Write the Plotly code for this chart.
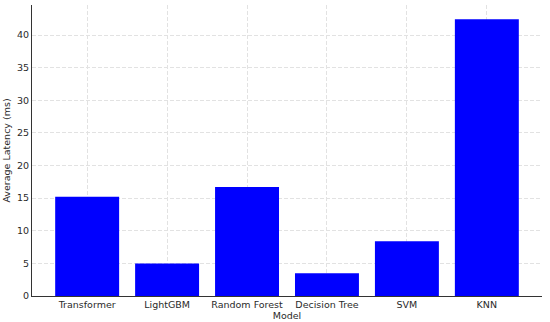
import plotly.graph_objects as go

models = ["Transformer", "LightGBM", "Random Forest", "Decision Tree", "SVM", "KNN"]
latency = [15.2, 5.0, 16.7, 3.5, 8.4, 42.4]
y_ticks = [0, 5, 10, 15, 20, 25, 30, 35, 40]

fig = go.Figure()
fig.add_trace(go.Bar(
    x=list(range(len(models))), y=latency,
    marker=dict(color="#0000ff", line=dict(width=0)),
    width=0.8,
))

font = dict(family="DejaVu Sans", size=9.5, color="#2a2a2a")
grid = dict(showgrid=True, gridcolor="#e2e2e2", griddash="4px,2px", gridwidth=0.7)
fig.update_layout(
    width=550, height=322, autosize=False,
    margin=dict(l=32, r=8, t=5, b=26, pad=0, autoexpand=False),
    paper_bgcolor="white", plot_bgcolor="white",
    showlegend=False,
    font=font,
    xaxis=dict(
        range=[-0.69, 5.69],
        tickmode="array", tickvals=list(range(len(models))), ticktext=models,
        showline=True, linecolor="#333333", linewidth=1,
        ticks="", **grid,
        title=dict(text="Model", font=font, standoff=0),
        layer="above traces", zeroline=False, automargin=False,
    ),
    yaxis=dict(
        range=[0, 44.6],
        tickmode="array", tickvals=y_ticks,
        showline=True, linecolor="#333333", linewidth=1,
        ticks="", **grid,
        title=dict(text="Average Latency (ms)", font=font, standoff=4),
        layer="above traces", zeroline=False, automargin=False,
    ),
)
fig.write_html("out.html", config={"displayModeBar": False},
               post_script="document.body.style.margin='0';")
